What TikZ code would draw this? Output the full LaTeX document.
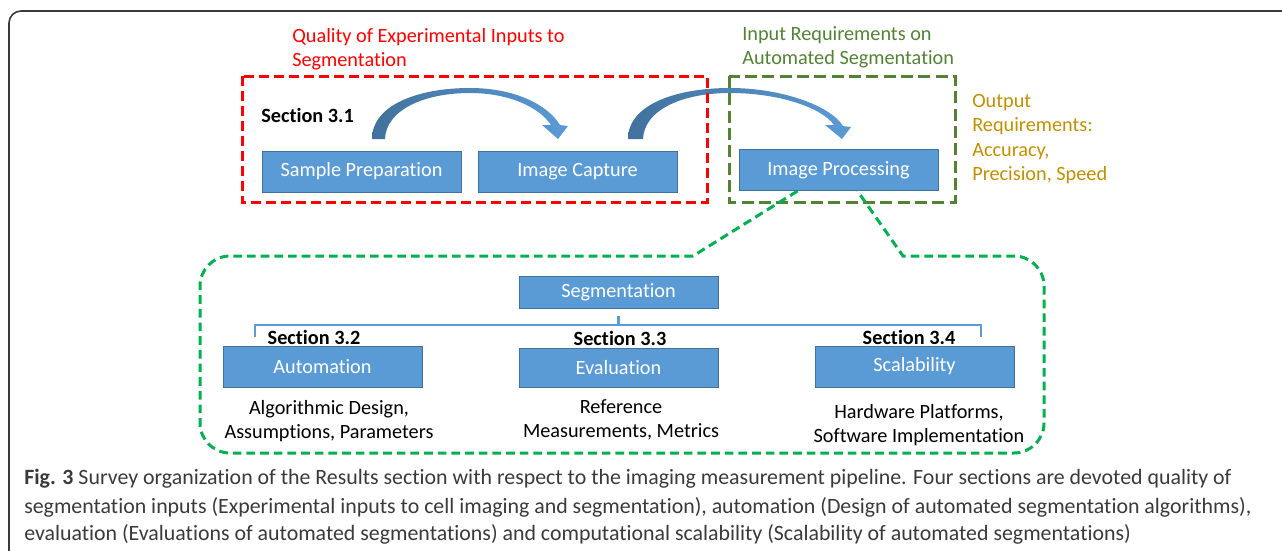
\documentclass[tikz,border=0pt]{standalone}
\usepackage{fontspec}
\setmainfont{Carlito}[Ligatures=NoCommon]
\usetikzlibrary{calc}
\definecolor{boxblue}{HTML}{5B9BD5}
\definecolor{boxedge}{HTML}{41719C}
\definecolor{arrowdark}{HTML}{41719C}
\definecolor{redline}{HTML}{FF0000}
\definecolor{oliveline}{HTML}{548235}
\definecolor{calloutgreen}{HTML}{00B050}
\definecolor{orangetxt}{HTML}{BF9000}
\definecolor{captxt}{HTML}{3A3A3A}
\definecolor{framecol}{HTML}{3A3A3A}
\begin{document}
\begin{tikzpicture}[x=0.75pt,y=-0.75pt,
  bx/.style={draw=boxedge, line width=0.75pt, fill=boxblue, text=white,
    font=\fontsize{15.2pt}{18pt}\selectfont, inner sep=0pt,
    minimum width=149.25pt, minimum height=30.75pt},
  lbl/.style={inner sep=0pt, font=\fontsize{15.2pt}{18pt}\selectfont},
  sect/.style={inner sep=0pt, font=\fontsize{15.2pt}{18pt}\selectfont\bfseries},
  reddash/.style={draw=redline, line width=2.25pt, dash pattern=on 7.5pt off 3.75pt},
  olivedash/.style={draw=oliveline, line width=2.25pt, dash pattern=on 9pt off 4pt},
  greendash/.style={draw=calloutgreen, line width=2.25pt, dash pattern=on 6.5pt off 3.75pt},
  bracket/.style={draw=boxblue, line width=1.9pt},
  curvearrow/.style={left color=arrowdark, right color=boxblue},
  captionline/.style={inner sep=0pt, anchor=west, text=captxt, font=\fontsize{16.4pt}{19pt}\selectfont}
]
\useasboundingbox (0,0) rectangle (1282,550);

% outer frame
\draw[framecol, line width=1.2pt, rounded corners=9pt] (9,552) -- (9,11) -- (1284,11);

% curved block arrows
\shade[curvearrow] (372,139) .. controls (372,105) and (418,88) .. (470,88)
  .. controls (515,88) and (548,105) .. (560,125) -- (568,126) -- (558,139) -- (542,125) -- (551,125)
  .. controls (540,108) and (510,93) .. (470,93) .. controls (424,93) and (386,110) .. (385,139) -- cycle;
\shade[curvearrow] (628,139) .. controls (628,105) and (675,88) .. (730,88)
  .. controls (780,88) and (830,105) .. (843,126) -- (851,127) -- (842,139) -- (825,125) -- (834,125)
  .. controls (822,108) and (780,93) .. (730,93) .. controls (682,93) and (644,110) .. (643,139) -- cycle;

% top boxes
\node[bx] (sp) at (361.5,171.5) {Sample Preparation};
\node[bx] (ic) at (577.5,171.5) {Image Capture};
\node[bx] (ip) at (838.5,170) {Image Processing};

% dashed groups
\draw[reddash] (242,76) rectangle (707,202);
\draw[olivedash] (729,76) rectangle (955,202);

% group labels
\node[lbl, text=redline, anchor=west, align=left] (qual) at (292,49) {Quality of Experimental Inputs to\\Segmentation};
\node[lbl, text=oliveline, anchor=west, align=left] (inreq) at (742,47) {Input Requirements on\\Automated Segmentation};
\node[lbl, text=orangetxt, anchor=west, align=left, font=\fontsize{15.2pt}{18.4pt}\selectfont] (outreq) at (972,139) {Output\\Requirements:\\Accuracy,\\Precision, Speed};
\node[sect, anchor=west] (s31) at (261,115) {Section 3.1};

% callout
\coordinate (cl) at ($(ip.south west)+(59,0)$);
\coordinate (cr) at ($(ip.south west)+(119,0)$);
\draw[greendash] (cl) -- (693,256) [rounded corners=22.5pt] -- (200,256) -- (200,453) -- (1044,453) -- (1044,256) [sharp corners] -- (903,256) -- (cr);

% lower boxes
\node[bx, minimum height=24pt] (seg) at (618.5,292) {Segmentation};
\node[bx] (auto) at (322.5,366.5) {Automation};
\node[bx, minimum height=29.25pt] (eval) at (618.5,367.5) {Evaluation};
\node[bx] (scal) at (914.5,366.5) {Scalability};

% bracket
\coordinate (bl) at (255,337);
\coordinate (br) at (981,337);
\coordinate (bm) at (618.5,325);
\draw[bracket] (bl) -- (255,325) -- (981,325) -- (br);
\draw[bracket] ($(seg.south)+(0,7)$) -- (bm);

\node[sect] (s32) at (314,337) {Section 3.2};
\node[sect] (s33) at (620,338) {Section 3.3};
\node[sect] (s34) at (909,337) {Section 3.4};

\node[lbl, align=center] (d1) at (329,421) {Algorithmic Design,\\Assumptions, Parameters};
\node[lbl, align=center] (d2) at (621,419.5) {Reference\\Measurements, Metrics};
\node[lbl, align=center] (d3) at (919,425) {Hardware Platforms,\\Software Implementation};

% caption
\node[captionline] (c1) at (24,479) {\textbf{Fig. 3} Survey organization of the Results section with respect to the imaging measurement pipeline. Four sections are devoted quality of};
\node[captionline] (c2) at (24,507) {segmentation inputs (Experimental inputs to cell imaging and segmentation), automation (Design of automated segmentation algorithms),};
\node[captionline] (c3) at (24,534) {evaluation (Evaluations of automated segmentations) and computational scalability (Scalability of automated segmentations)};
\end{tikzpicture}
\end{document}
